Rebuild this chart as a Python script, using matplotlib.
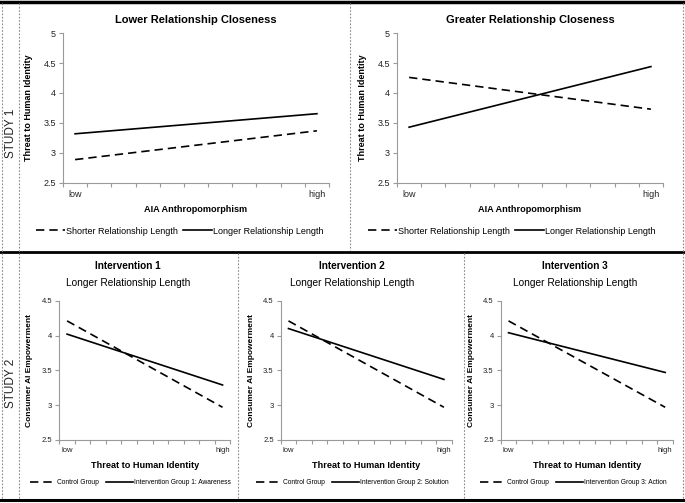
import numpy as np
import matplotlib
matplotlib.use('Agg')
import matplotlib.pyplot as plt
from matplotlib.lines import Line2D

plt.rcParams['font.family'] = ['Liberation Sans', 'DejaVu Sans']

# category positions of "low" and "high" on the x axis (11 categories)
x_pos = [0.5, 10.5]
x_labels = ['low', 'high']

# study 1
s1_titles = ['Lower Relationship Closeness', 'Greater Relationship Closeness']
s1_shorter = [[2.89, 3.37], [4.26, 3.73]]
s1_longer = [[3.32, 3.655], [3.43, 4.44]]
s1_legend = ['Shorter Relationship Length', 'Longer Relationship Length']

# study 2
s2_titles = ['Intervention 1', 'Intervention 2', 'Intervention 3']
s2_sub = 'Longer Relationship Length'
s2_control = [[4.21, 2.97], [4.21, 2.97], [4.21, 2.97]]
s2_interv = [[4.02, 3.29], [4.10, 3.37], [4.04, 3.47]]
s2_legend = ['Intervention Group 1: Awareness', 'Intervention Group 2: Solution',
             'Intervention Group 3: Action']

W, H = 685, 503
fig = plt.figure(figsize=(W / 100, H / 100), dpi=100)

def fx(px):
    return px / W

def fy(py):
    return 1 - py / H

spine_col = '#9a9a9a'

def style_axes(ax, ymin, ymax, tsize):
    for s in ['top', 'right']:
        ax.spines[s].set_visible(False)
    for s in ['left', 'bottom']:
        ax.spines[s].set_color(spine_col)
        ax.spines[s].set_linewidth(0.8)
    ax.set_xlim(0, 11)
    ax.set_ylim(ymin, ymax)
    ax.set_xticks(np.arange(0, 12))
    ax.set_xticklabels([])
    ax.set_xticks(x_pos, minor=True)
    ax.set_xticklabels(x_labels, minor=True, fontsize=tsize, color='#222222')
    ax.tick_params(axis='x', which='major', length=3, color=spine_col, width=0.8)
    ax.tick_params(axis='x', which='minor', length=0, pad=5)
    ax.tick_params(axis='y', length=3, color=spine_col, width=0.8,
                   labelsize=tsize, labelcolor='#222222', pad=2)

dash = (0, (5, 3))

# ---- study 1 panels
s1_left = [63, 397]
leg_cx1 = [180, 512]
for i in range(2):
    ax = fig.add_axes([fx(s1_left[i]), fy(183), fx(266), 150 / H])
    ax.plot(x_pos, s1_shorter[i], color='black', lw=1.2, linestyle=dash,
            label=s1_legend[0])
    ax.plot(x_pos, s1_longer[i], color='black', lw=1.2, label=s1_legend[1])
    style_axes(ax, 2.5, 5, 6.5)
    ax.set_yticks([2.5, 3, 3.5, 4, 4.5, 5])
    ax.set_yticklabels(['2.5', '3', '3.5', '4', '4.5', '5'])
    ax.set_xlabel('AIA Anthropomorphism', fontsize=6.6, fontweight='bold', labelpad=4)
    ax.set_ylabel('Threat to Human Identity', fontsize=6.5, fontweight='bold')
    ax.yaxis.set_label_coords(-30 / 266, 0.5)
    ax.set_title(s1_titles[i], fontsize=8, fontweight='bold', pad=7)
    h, l = ax.get_legend_handles_labels()
    fig.legend(h, l, loc='center', bbox_to_anchor=(fx(leg_cx1[i]), fy(231)),
               ncol=2, frameon=False, fontsize=6.5, handlelength=3.2,
               handletextpad=0.1, columnspacing=0.6)

# ---- study 2 panels
s2_left = [59.3, 280.7, 500.7]
s2_w = [171, 171, 172.3]
title_cx = [128, 352, 575]
leg_cx2 = [130, 352, 573]
for i in range(3):
    ax = fig.add_axes([fx(s2_left[i]), fy(440), fx(s2_w[i]), 139.3 / H])
    ax.plot(x_pos, s2_control[i], color='black', lw=1.2, linestyle=dash,
            label='Control Group')
    ax.plot(x_pos, s2_interv[i], color='black', lw=1.2, label=s2_legend[i])
    style_axes(ax, 2.5, 4.5, 5.5)
    ax.set_yticks([2.5, 3, 3.5, 4, 4.5])
    ax.set_yticklabels(['2.5', '3', '3.5', '4', '4.5'])
    ax.set_xlabel('Threat to Human Identity', fontsize=6.6, fontweight='bold',
                  labelpad=5)
    ax.set_ylabel('Consumer AI Empowerment', fontsize=6, fontweight='bold')
    ax.yaxis.set_label_coords(-26 / s2_w[i], 0.5)
    fig.text(fx(title_cx[i]), fy(266), s2_titles[i], fontsize=7.2,
             fontweight='bold', ha='center', va='center')
    fig.text(fx(title_cx[i]), fy(283), s2_sub, fontsize=7.3,
             ha='center', va='center')
    h, l = ax.get_legend_handles_labels()
    fig.legend(h, l, loc='center', bbox_to_anchor=(fx(leg_cx2[i]), fy(483)),
               ncol=2, frameon=False, fontsize=4.8, handlelength=4,
               handletextpad=0.1, columnspacing=1.1)

# study labels
fig.text(fx(11), fy(133), 'STUDY 1', rotation=90, fontsize=8.5,
         ha='center', va='center', color='#222222')
fig.text(fx(11), fy(383), 'STUDY 2', rotation=90, fontsize=8.5,
         ha='center', va='center', color='#222222')

# frame lines
for yy, lw in [(1.5, 2.5), (251.5, 2), (500, 2.2)]:
    fig.add_artist(Line2D([0, 1], [fy(yy), fy(yy)], color='black', lw=lw))
dot = dict(color='#8a8a8a', lw=0.8, linestyle=(0, (1.5, 1.5)))
for xx in [2, 18.5, 682.7]:
    fig.add_artist(Line2D([fx(xx), fx(xx)], [fy(3), fy(499)], **dot))
fig.add_artist(Line2D([fx(350), fx(350)], [fy(3), fy(250)], **dot))
for xx in [238.3, 464]:
    fig.add_artist(Line2D([fx(xx), fx(xx)], [fy(253), fy(499)], **dot))

fig.savefig('out.png', dpi=100)
